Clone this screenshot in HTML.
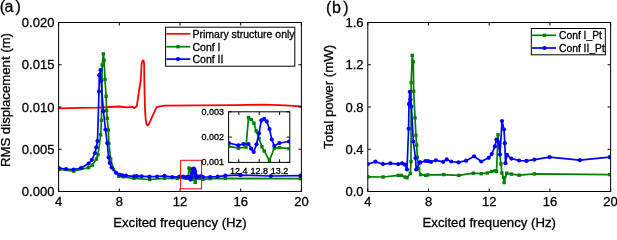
<!DOCTYPE html><html><head><meta charset="utf-8"><style>html,body{margin:0;padding:0;background:#fff;width:617px;height:230px;overflow:hidden}text{stroke:#000;stroke-width:0.3}svg{display:block;will-change:transform;font-family:"Liberation Sans",sans-serif}</style></head><body>
<svg width="617" height="230" viewBox="0 0 617 230">
<rect width="617" height="230" fill="#fff"/>
<text y="12.2" font-size="16"><tspan x="-0.3">(</tspan><tspan x="4.4">a</tspan><tspan x="15.4">)</tspan></text>
<text y="12.8" font-size="16"><tspan x="325.9">(</tspan><tspan x="332.1">b</tspan><tspan x="343.3">)</tspan></text>
<clipPath id="ca"><rect x="58.6" y="22.5" width="242.80" height="169.00"/></clipPath>
<g clip-path="url(#ca)">
<polyline points="58.6,108.3 80.0,107.9 97.0,107.6 110.0,107.0 119.0,106.5 126.7,107.3 132.6,106.9 134.5,108.0 136.8,106.1 138.4,95.0 140.8,80.0 141.6,64.0 142.5,60.9 143.4,60.4 144.1,63.0 144.3,80.0 144.6,95.0 145.2,113.0 145.8,120.5 146.6,124.3 147.6,125.5 148.6,124.6 156.6,107.2 164.2,105.7 200.0,105.4 235.0,105.1 263.9,104.7 285.0,105.3 301.4,106.4" fill="none" stroke="#ff0000" stroke-width="1.8" stroke-linejoin="round"/>
<polyline points="58.9,169.5 73.6,171.1 88.6,167.6 92.3,165.2 96.3,159.1 98.0,154.8 100.7,134.8 101.4,120.3 102.2,65.0 103.3,53.9 104.1,60.4 105.0,79.5 106.1,96.3 106.6,110.4 107.2,118.3 108.3,130.0 108.9,143.5 110.7,159.0 113.5,169.5 118.8,176.3 123.3,176.8 134.0,178.3 149.7,179.5 164.5,178.3 177.4,178.3 183.1,177.7 186.0,178.3 188.2,178.0 189.0,168.1 189.8,168.7 190.6,170.0 191.2,172.6 192.1,175.0 192.9,177.8 193.6,179.2 195.2,182.4 196.6,178.3 198.2,178.1 201.0,178.5 203.0,179.3 210.2,178.7 225.3,178.4 300.5,178.7" fill="none" stroke="#008000" stroke-width="1.7" stroke-linejoin="round"/>
<rect x="57.2" y="167.8" width="3.4" height="3.4" fill="#008000"/>
<rect x="71.9" y="169.4" width="3.4" height="3.4" fill="#008000"/>
<rect x="86.9" y="165.9" width="3.4" height="3.4" fill="#008000"/>
<rect x="90.6" y="163.5" width="3.4" height="3.4" fill="#008000"/>
<rect x="94.6" y="157.4" width="3.4" height="3.4" fill="#008000"/>
<rect x="96.3" y="153.1" width="3.4" height="3.4" fill="#008000"/>
<rect x="99.0" y="133.1" width="3.4" height="3.4" fill="#008000"/>
<rect x="99.7" y="118.6" width="3.4" height="3.4" fill="#008000"/>
<rect x="100.5" y="63.3" width="3.4" height="3.4" fill="#008000"/>
<rect x="101.6" y="52.2" width="3.4" height="3.4" fill="#008000"/>
<rect x="102.4" y="58.7" width="3.4" height="3.4" fill="#008000"/>
<rect x="103.3" y="77.8" width="3.4" height="3.4" fill="#008000"/>
<rect x="104.4" y="94.6" width="3.4" height="3.4" fill="#008000"/>
<rect x="104.9" y="108.7" width="3.4" height="3.4" fill="#008000"/>
<rect x="105.5" y="116.6" width="3.4" height="3.4" fill="#008000"/>
<rect x="106.6" y="128.3" width="3.4" height="3.4" fill="#008000"/>
<rect x="107.2" y="141.8" width="3.4" height="3.4" fill="#008000"/>
<rect x="109.0" y="157.3" width="3.4" height="3.4" fill="#008000"/>
<rect x="111.8" y="167.8" width="3.4" height="3.4" fill="#008000"/>
<rect x="117.1" y="174.6" width="3.4" height="3.4" fill="#008000"/>
<rect x="121.6" y="175.1" width="3.4" height="3.4" fill="#008000"/>
<rect x="132.3" y="176.6" width="3.4" height="3.4" fill="#008000"/>
<rect x="148.0" y="177.8" width="3.4" height="3.4" fill="#008000"/>
<rect x="162.8" y="176.6" width="3.4" height="3.4" fill="#008000"/>
<rect x="175.7" y="176.6" width="3.4" height="3.4" fill="#008000"/>
<rect x="181.4" y="176.0" width="3.4" height="3.4" fill="#008000"/>
<rect x="184.3" y="176.6" width="3.4" height="3.4" fill="#008000"/>
<rect x="186.5" y="176.3" width="3.4" height="3.4" fill="#008000"/>
<rect x="187.3" y="166.4" width="3.4" height="3.4" fill="#008000"/>
<rect x="188.1" y="167.0" width="3.4" height="3.4" fill="#008000"/>
<rect x="188.9" y="168.3" width="3.4" height="3.4" fill="#008000"/>
<rect x="189.5" y="170.9" width="3.4" height="3.4" fill="#008000"/>
<rect x="190.4" y="173.3" width="3.4" height="3.4" fill="#008000"/>
<rect x="191.2" y="176.1" width="3.4" height="3.4" fill="#008000"/>
<rect x="191.9" y="177.5" width="3.4" height="3.4" fill="#008000"/>
<rect x="193.5" y="180.7" width="3.4" height="3.4" fill="#008000"/>
<rect x="194.9" y="176.6" width="3.4" height="3.4" fill="#008000"/>
<rect x="196.5" y="176.4" width="3.4" height="3.4" fill="#008000"/>
<rect x="199.3" y="176.8" width="3.4" height="3.4" fill="#008000"/>
<rect x="201.3" y="177.6" width="3.4" height="3.4" fill="#008000"/>
<rect x="208.5" y="177.0" width="3.4" height="3.4" fill="#008000"/>
<rect x="223.6" y="176.7" width="3.4" height="3.4" fill="#008000"/>
<rect x="298.8" y="177.0" width="3.4" height="3.4" fill="#008000"/>
<polyline points="58.9,168.0 66.1,169.0 73.6,169.5 81.0,168.0 88.6,163.6 91.8,160.0 95.0,153.0 96.3,147.3 97.5,141.0 99.0,91.4 99.3,75.2 100.5,70.0 101.1,80.8 103.4,111.2 105.5,129.5 107.2,143.1 108.6,157.4 109.8,163.1 111.6,167.5 115.9,172.7 119.4,174.5 122.4,175.3 125.9,175.6 134.1,176.3 136.8,176.2 141.5,176.3 149.4,176.7 157.2,176.7 164.4,175.8 172.2,177.2 179.4,176.7 183.1,176.6 186.0,177.3 187.5,176.9 189.0,176.9 189.8,178.5 190.5,179.6 191.3,177.0 192.1,173.3 192.8,169.0 193.6,168.5 194.4,169.4 195.2,171.9 195.9,175.4 196.6,177.5 198.2,176.6 201.0,176.1 203.0,177.0 210.2,177.0 217.6,176.6 225.3,175.7 240.5,175.2 270.8,176.0 300.5,175.7" fill="none" stroke="#0000ff" stroke-width="1.7" stroke-linejoin="round"/>
<circle cx="58.9" cy="168.0" r="2.1" fill="#0000ff"/>
<circle cx="66.1" cy="169.0" r="2.1" fill="#0000ff"/>
<circle cx="73.6" cy="169.5" r="2.1" fill="#0000ff"/>
<circle cx="81.0" cy="168.0" r="2.1" fill="#0000ff"/>
<circle cx="88.6" cy="163.6" r="2.1" fill="#0000ff"/>
<circle cx="91.8" cy="160.0" r="2.1" fill="#0000ff"/>
<circle cx="95.0" cy="153.0" r="2.1" fill="#0000ff"/>
<circle cx="96.3" cy="147.3" r="2.1" fill="#0000ff"/>
<circle cx="97.5" cy="141.0" r="2.1" fill="#0000ff"/>
<circle cx="99.0" cy="91.4" r="2.1" fill="#0000ff"/>
<circle cx="99.3" cy="75.2" r="2.1" fill="#0000ff"/>
<circle cx="100.5" cy="70.0" r="2.1" fill="#0000ff"/>
<circle cx="101.1" cy="80.8" r="2.1" fill="#0000ff"/>
<circle cx="103.4" cy="111.2" r="2.1" fill="#0000ff"/>
<circle cx="105.5" cy="129.5" r="2.1" fill="#0000ff"/>
<circle cx="107.2" cy="143.1" r="2.1" fill="#0000ff"/>
<circle cx="108.6" cy="157.4" r="2.1" fill="#0000ff"/>
<circle cx="109.8" cy="163.1" r="2.1" fill="#0000ff"/>
<circle cx="111.6" cy="167.5" r="2.1" fill="#0000ff"/>
<circle cx="115.9" cy="172.7" r="2.1" fill="#0000ff"/>
<circle cx="119.4" cy="174.5" r="2.1" fill="#0000ff"/>
<circle cx="122.4" cy="175.3" r="2.1" fill="#0000ff"/>
<circle cx="125.9" cy="175.6" r="2.1" fill="#0000ff"/>
<circle cx="134.1" cy="176.3" r="2.1" fill="#0000ff"/>
<circle cx="136.8" cy="176.2" r="2.1" fill="#0000ff"/>
<circle cx="141.5" cy="176.3" r="2.1" fill="#0000ff"/>
<circle cx="149.4" cy="176.7" r="2.1" fill="#0000ff"/>
<circle cx="157.2" cy="176.7" r="2.1" fill="#0000ff"/>
<circle cx="164.4" cy="175.8" r="2.1" fill="#0000ff"/>
<circle cx="172.2" cy="177.2" r="2.1" fill="#0000ff"/>
<circle cx="179.4" cy="176.7" r="2.1" fill="#0000ff"/>
<circle cx="183.1" cy="176.6" r="2.1" fill="#0000ff"/>
<circle cx="186.0" cy="177.3" r="2.1" fill="#0000ff"/>
<circle cx="187.5" cy="176.9" r="2.1" fill="#0000ff"/>
<circle cx="189.0" cy="176.9" r="2.1" fill="#0000ff"/>
<circle cx="189.8" cy="178.5" r="2.1" fill="#0000ff"/>
<circle cx="190.5" cy="179.6" r="2.1" fill="#0000ff"/>
<circle cx="191.3" cy="177.0" r="2.1" fill="#0000ff"/>
<circle cx="192.1" cy="173.3" r="2.1" fill="#0000ff"/>
<circle cx="192.8" cy="169.0" r="2.1" fill="#0000ff"/>
<circle cx="193.6" cy="168.5" r="2.1" fill="#0000ff"/>
<circle cx="194.4" cy="169.4" r="2.1" fill="#0000ff"/>
<circle cx="195.2" cy="171.9" r="2.1" fill="#0000ff"/>
<circle cx="195.9" cy="175.4" r="2.1" fill="#0000ff"/>
<circle cx="196.6" cy="177.5" r="2.1" fill="#0000ff"/>
<circle cx="198.2" cy="176.6" r="2.1" fill="#0000ff"/>
<circle cx="201.0" cy="176.1" r="2.1" fill="#0000ff"/>
<circle cx="203.0" cy="177.0" r="2.1" fill="#0000ff"/>
<circle cx="210.2" cy="177.0" r="2.1" fill="#0000ff"/>
<circle cx="217.6" cy="176.6" r="2.1" fill="#0000ff"/>
<circle cx="225.3" cy="175.7" r="2.1" fill="#0000ff"/>
<circle cx="240.5" cy="175.2" r="2.1" fill="#0000ff"/>
<circle cx="270.8" cy="176.0" r="2.1" fill="#0000ff"/>
<circle cx="300.5" cy="175.7" r="2.1" fill="#0000ff"/>
</g>
<rect x="58.6" y="22.5" width="242.80" height="169.00" fill="none" stroke="#000" stroke-width="1"/>
<line x1="58.60" y1="191.5" x2="58.60" y2="188.5" stroke="#000" stroke-width="1"/>
<line x1="58.60" y1="22.5" x2="58.60" y2="25.5" stroke="#000" stroke-width="1"/>
<line x1="119.30" y1="191.5" x2="119.30" y2="188.5" stroke="#000" stroke-width="1"/>
<line x1="119.30" y1="22.5" x2="119.30" y2="25.5" stroke="#000" stroke-width="1"/>
<line x1="180.00" y1="191.5" x2="180.00" y2="188.5" stroke="#000" stroke-width="1"/>
<line x1="180.00" y1="22.5" x2="180.00" y2="25.5" stroke="#000" stroke-width="1"/>
<line x1="240.70" y1="191.5" x2="240.70" y2="188.5" stroke="#000" stroke-width="1"/>
<line x1="240.70" y1="22.5" x2="240.70" y2="25.5" stroke="#000" stroke-width="1"/>
<line x1="301.40" y1="191.5" x2="301.40" y2="188.5" stroke="#000" stroke-width="1"/>
<line x1="301.40" y1="22.5" x2="301.40" y2="25.5" stroke="#000" stroke-width="1"/>
<line x1="58.6" y1="191.50" x2="61.6" y2="191.50" stroke="#000" stroke-width="1"/>
<line x1="301.4" y1="191.50" x2="298.4" y2="191.50" stroke="#000" stroke-width="1"/>
<line x1="58.6" y1="149.25" x2="61.6" y2="149.25" stroke="#000" stroke-width="1"/>
<line x1="301.4" y1="149.25" x2="298.4" y2="149.25" stroke="#000" stroke-width="1"/>
<line x1="58.6" y1="107.00" x2="61.6" y2="107.00" stroke="#000" stroke-width="1"/>
<line x1="301.4" y1="107.00" x2="298.4" y2="107.00" stroke="#000" stroke-width="1"/>
<line x1="58.6" y1="64.75" x2="61.6" y2="64.75" stroke="#000" stroke-width="1"/>
<line x1="301.4" y1="64.75" x2="298.4" y2="64.75" stroke="#000" stroke-width="1"/>
<line x1="58.6" y1="22.50" x2="61.6" y2="22.50" stroke="#000" stroke-width="1"/>
<line x1="301.4" y1="22.50" x2="298.4" y2="22.50" stroke="#000" stroke-width="1"/>
<text x="54.4" y="196.00" text-anchor="end" font-size="13">0.000</text>
<text x="54.4" y="153.75" text-anchor="end" font-size="13">0.005</text>
<text x="54.4" y="111.50" text-anchor="end" font-size="13">0.010</text>
<text x="54.4" y="69.25" text-anchor="end" font-size="13">0.015</text>
<text x="54.4" y="27.00" text-anchor="end" font-size="13">0.020</text>
<text x="58.60" y="205.8" text-anchor="middle" font-size="13">4</text>
<text x="119.30" y="205.8" text-anchor="middle" font-size="13">8</text>
<text x="180.00" y="205.8" text-anchor="middle" font-size="13">12</text>
<text x="240.70" y="205.8" text-anchor="middle" font-size="13">16</text>
<text x="301.40" y="205.8" text-anchor="middle" font-size="13">20</text>
<rect x="180.6" y="160.3" width="21.0" height="28.5" fill="none" stroke="#ff0000" stroke-width="1"/>
<rect x="228.6" y="111.8" width="61.20" height="50.60" fill="#fff" stroke="#000" stroke-width="1"/>
<clipPath id="ci"><rect x="228.6" y="111.8" width="61.20" height="50.60"/></clipPath>
<g clip-path="url(#ci)">
<polyline points="228.8,146.3 238.4,148.2 246.0,147.2 248.5,117.6 251.2,119.5 254.0,123.3 256.2,131.0 259.0,138.4 261.9,146.8 264.2,151.0 269.4,160.4 274.3,148.2 279.5,147.6 289.0,148.7" fill="none" stroke="#008000" stroke-width="1.7" stroke-linejoin="round"/>
<rect x="227.1" y="144.6" width="3.4" height="3.4" fill="#008000"/>
<rect x="236.7" y="146.5" width="3.4" height="3.4" fill="#008000"/>
<rect x="244.3" y="145.5" width="3.4" height="3.4" fill="#008000"/>
<rect x="246.8" y="115.9" width="3.4" height="3.4" fill="#008000"/>
<rect x="249.5" y="117.8" width="3.4" height="3.4" fill="#008000"/>
<rect x="252.3" y="121.6" width="3.4" height="3.4" fill="#008000"/>
<rect x="254.5" y="129.3" width="3.4" height="3.4" fill="#008000"/>
<rect x="257.3" y="136.7" width="3.4" height="3.4" fill="#008000"/>
<rect x="260.2" y="145.1" width="3.4" height="3.4" fill="#008000"/>
<rect x="262.5" y="149.3" width="3.4" height="3.4" fill="#008000"/>
<rect x="267.7" y="158.7" width="3.4" height="3.4" fill="#008000"/>
<rect x="272.6" y="146.5" width="3.4" height="3.4" fill="#008000"/>
<rect x="277.8" y="145.9" width="3.4" height="3.4" fill="#008000"/>
<rect x="287.3" y="147.0" width="3.4" height="3.4" fill="#008000"/>
<polyline points="228.8,143.0 238.4,145.3 243.5,144.0 248.5,144.0 251.2,148.7 253.7,152.0 256.5,144.3 259.0,133.3 261.3,120.4 264.2,118.9 266.7,121.4 269.5,129.0 271.8,139.5 274.3,145.8 279.5,143.0 289.0,141.5" fill="none" stroke="#0000ff" stroke-width="1.7" stroke-linejoin="round"/>
<circle cx="228.8" cy="143.0" r="2.1" fill="#0000ff"/>
<circle cx="238.4" cy="145.3" r="2.1" fill="#0000ff"/>
<circle cx="243.5" cy="144.0" r="2.1" fill="#0000ff"/>
<circle cx="248.5" cy="144.0" r="2.1" fill="#0000ff"/>
<circle cx="251.2" cy="148.7" r="2.1" fill="#0000ff"/>
<circle cx="253.7" cy="152.0" r="2.1" fill="#0000ff"/>
<circle cx="256.5" cy="144.3" r="2.1" fill="#0000ff"/>
<circle cx="259.0" cy="133.3" r="2.1" fill="#0000ff"/>
<circle cx="261.3" cy="120.4" r="2.1" fill="#0000ff"/>
<circle cx="264.2" cy="118.9" r="2.1" fill="#0000ff"/>
<circle cx="266.7" cy="121.4" r="2.1" fill="#0000ff"/>
<circle cx="269.5" cy="129.0" r="2.1" fill="#0000ff"/>
<circle cx="271.8" cy="139.5" r="2.1" fill="#0000ff"/>
<circle cx="274.3" cy="145.8" r="2.1" fill="#0000ff"/>
<circle cx="279.5" cy="143.0" r="2.1" fill="#0000ff"/>
<circle cx="289.0" cy="141.5" r="2.1" fill="#0000ff"/>
</g>
<line x1="238.80" y1="162.4" x2="238.80" y2="159.20000000000002" stroke="#000"/>
<line x1="238.80" y1="111.8" x2="238.80" y2="115.0" stroke="#000"/>
<line x1="259.20" y1="162.4" x2="259.20" y2="159.20000000000002" stroke="#000"/>
<line x1="259.20" y1="111.8" x2="259.20" y2="115.0" stroke="#000"/>
<line x1="279.60" y1="162.4" x2="279.60" y2="159.20000000000002" stroke="#000"/>
<line x1="279.60" y1="111.8" x2="279.60" y2="115.0" stroke="#000"/>
<line x1="228.6" y1="162.40" x2="231.79999999999998" y2="162.40" stroke="#000"/>
<line x1="289.8" y1="162.40" x2="286.6" y2="162.40" stroke="#000"/>
<line x1="228.6" y1="137.10" x2="231.79999999999998" y2="137.10" stroke="#000"/>
<line x1="289.8" y1="137.10" x2="286.6" y2="137.10" stroke="#000"/>
<line x1="228.6" y1="111.80" x2="231.79999999999998" y2="111.80" stroke="#000"/>
<line x1="289.8" y1="111.80" x2="286.6" y2="111.80" stroke="#000"/>
<text x="224" y="165.40" text-anchor="end" font-size="9">0.001</text>
<text x="224" y="140.10" text-anchor="end" font-size="9">0.002</text>
<text x="224" y="114.80" text-anchor="end" font-size="9">0.003</text>
<text x="238.80" y="174.2" text-anchor="middle" font-size="9">12.4</text>
<text x="259.20" y="174.2" text-anchor="middle" font-size="9">12.8</text>
<text x="279.60" y="174.2" text-anchor="middle" font-size="9">13.2</text>
<rect x="165.6" y="27.2" width="129.2" height="39" fill="#fff" stroke="#000" stroke-width="1"/>
<line x1="166.3" y1="33.8" x2="190.3" y2="33.8" stroke="#ff0000" stroke-width="1.7"/>
<line x1="166.3" y1="46.7" x2="190.3" y2="46.7" stroke="#008000" stroke-width="1.7"/>
<rect x="176.3" y="45.0" width="3.4" height="3.4" fill="#008000"/>
<line x1="166.3" y1="59.1" x2="190.3" y2="59.1" stroke="#0000ff" stroke-width="1.7"/>
<circle cx="178.0" cy="59.1" r="2.1" fill="#0000ff"/>
<text x="192.5" y="37.8" font-size="10.5">Primary structure only</text>
<text x="192.5" y="50.7" font-size="10.5">Conf I</text>
<text x="192.5" y="63.1" font-size="10.5">Conf II</text>
<text x="179.9" y="227" text-anchor="middle" font-size="13.2">Excited frequency (Hz)</text>
<text transform="translate(10,100.05) rotate(-90)" text-anchor="middle" font-size="13.2">RMS displacement (m)</text>
<clipPath id="cb"><rect x="367.8" y="22.5" width="242.80" height="169.00"/></clipPath>
<g clip-path="url(#cb)">
<polyline points="367.9,176.8 383.0,177.0 398.2,175.4 401.2,175.4 405.0,177.0 407.0,177.8 410.3,173.5 411.0,161.5 411.2,82.6 412.2,55.4 413.3,61.8 413.7,91.3 415.0,117.8 415.9,135.4 416.7,145.0 417.3,157.2 418.7,168.6 420.6,174.6 425.8,175.4 428.0,174.9 443.7,174.6 458.8,175.4 473.3,173.2 481.3,173.7 487.2,173.0 491.5,171.5 494.8,170.9 496.5,171.5 498.0,134.8 500.9,163.9 501.9,173.0 503.5,177.6 504.1,182.6 506.7,173.2 511.3,174.1 519.1,175.2 534.4,173.9 609.7,174.6" fill="none" stroke="#008000" stroke-width="1.7" stroke-linejoin="round"/>
<rect x="366.2" y="175.1" width="3.4" height="3.4" fill="#008000"/>
<rect x="381.3" y="175.3" width="3.4" height="3.4" fill="#008000"/>
<rect x="396.5" y="173.7" width="3.4" height="3.4" fill="#008000"/>
<rect x="399.5" y="173.7" width="3.4" height="3.4" fill="#008000"/>
<rect x="403.3" y="175.3" width="3.4" height="3.4" fill="#008000"/>
<rect x="405.3" y="176.1" width="3.4" height="3.4" fill="#008000"/>
<rect x="408.6" y="171.8" width="3.4" height="3.4" fill="#008000"/>
<rect x="409.3" y="159.8" width="3.4" height="3.4" fill="#008000"/>
<rect x="409.5" y="80.9" width="3.4" height="3.4" fill="#008000"/>
<rect x="410.5" y="53.7" width="3.4" height="3.4" fill="#008000"/>
<rect x="411.6" y="60.1" width="3.4" height="3.4" fill="#008000"/>
<rect x="412.0" y="89.6" width="3.4" height="3.4" fill="#008000"/>
<rect x="413.3" y="116.1" width="3.4" height="3.4" fill="#008000"/>
<rect x="414.2" y="133.7" width="3.4" height="3.4" fill="#008000"/>
<rect x="415.0" y="143.3" width="3.4" height="3.4" fill="#008000"/>
<rect x="415.6" y="155.5" width="3.4" height="3.4" fill="#008000"/>
<rect x="417.0" y="166.9" width="3.4" height="3.4" fill="#008000"/>
<rect x="418.9" y="172.9" width="3.4" height="3.4" fill="#008000"/>
<rect x="424.1" y="173.7" width="3.4" height="3.4" fill="#008000"/>
<rect x="426.3" y="173.2" width="3.4" height="3.4" fill="#008000"/>
<rect x="442.0" y="172.9" width="3.4" height="3.4" fill="#008000"/>
<rect x="457.1" y="173.7" width="3.4" height="3.4" fill="#008000"/>
<rect x="471.6" y="171.5" width="3.4" height="3.4" fill="#008000"/>
<rect x="479.6" y="172.0" width="3.4" height="3.4" fill="#008000"/>
<rect x="485.5" y="171.3" width="3.4" height="3.4" fill="#008000"/>
<rect x="489.8" y="169.8" width="3.4" height="3.4" fill="#008000"/>
<rect x="493.1" y="169.2" width="3.4" height="3.4" fill="#008000"/>
<rect x="494.8" y="169.8" width="3.4" height="3.4" fill="#008000"/>
<rect x="496.3" y="133.1" width="3.4" height="3.4" fill="#008000"/>
<rect x="499.2" y="162.2" width="3.4" height="3.4" fill="#008000"/>
<rect x="500.2" y="171.3" width="3.4" height="3.4" fill="#008000"/>
<rect x="501.8" y="175.9" width="3.4" height="3.4" fill="#008000"/>
<rect x="502.4" y="180.9" width="3.4" height="3.4" fill="#008000"/>
<rect x="505.0" y="171.5" width="3.4" height="3.4" fill="#008000"/>
<rect x="509.6" y="172.4" width="3.4" height="3.4" fill="#008000"/>
<rect x="517.4" y="173.5" width="3.4" height="3.4" fill="#008000"/>
<rect x="532.7" y="172.2" width="3.4" height="3.4" fill="#008000"/>
<rect x="608.0" y="172.9" width="3.4" height="3.4" fill="#008000"/>
<polyline points="367.9,164.1 375.4,161.7 383.0,164.1 390.4,163.3 398.2,164.1 402.1,163.3 405.0,164.7 407.0,169.5 408.6,128.8 409.0,104.1 409.8,91.8 410.5,99.6 411.4,106.4 413.3,141.5 415.5,158.0 416.2,169.5 419.7,162.7 420.2,162.4 425.4,161.0 428.0,161.2 431.0,161.9 435.9,160.3 443.2,161.9 446.7,159.4 451.2,161.5 458.5,162.4 466.1,160.7 474.1,156.3 481.3,161.5 488.7,157.8 491.8,154.0 494.9,146.4 496.4,139.6 498.7,142.6 500.0,154.6 502.0,121.1 504.0,129.5 504.8,143.2 505.5,163.2 507.0,154.8 511.3,158.6 519.1,160.5 526.5,160.9 534.4,159.6 549.6,157.2 579.9,160.2 609.7,157.2" fill="none" stroke="#0000ff" stroke-width="1.7" stroke-linejoin="round"/>
<circle cx="367.9" cy="164.1" r="2.1" fill="#0000ff"/>
<circle cx="375.4" cy="161.7" r="2.1" fill="#0000ff"/>
<circle cx="383.0" cy="164.1" r="2.1" fill="#0000ff"/>
<circle cx="390.4" cy="163.3" r="2.1" fill="#0000ff"/>
<circle cx="398.2" cy="164.1" r="2.1" fill="#0000ff"/>
<circle cx="402.1" cy="163.3" r="2.1" fill="#0000ff"/>
<circle cx="405.0" cy="164.7" r="2.1" fill="#0000ff"/>
<circle cx="407.0" cy="169.5" r="2.1" fill="#0000ff"/>
<circle cx="408.6" cy="128.8" r="2.1" fill="#0000ff"/>
<circle cx="409.0" cy="104.1" r="2.1" fill="#0000ff"/>
<circle cx="409.8" cy="91.8" r="2.1" fill="#0000ff"/>
<circle cx="410.5" cy="99.6" r="2.1" fill="#0000ff"/>
<circle cx="411.4" cy="106.4" r="2.1" fill="#0000ff"/>
<circle cx="413.3" cy="141.5" r="2.1" fill="#0000ff"/>
<circle cx="415.5" cy="158.0" r="2.1" fill="#0000ff"/>
<circle cx="416.2" cy="169.5" r="2.1" fill="#0000ff"/>
<circle cx="419.7" cy="162.7" r="2.1" fill="#0000ff"/>
<circle cx="420.2" cy="162.4" r="2.1" fill="#0000ff"/>
<circle cx="425.4" cy="161.0" r="2.1" fill="#0000ff"/>
<circle cx="428.0" cy="161.2" r="2.1" fill="#0000ff"/>
<circle cx="431.0" cy="161.9" r="2.1" fill="#0000ff"/>
<circle cx="435.9" cy="160.3" r="2.1" fill="#0000ff"/>
<circle cx="443.2" cy="161.9" r="2.1" fill="#0000ff"/>
<circle cx="446.7" cy="159.4" r="2.1" fill="#0000ff"/>
<circle cx="451.2" cy="161.5" r="2.1" fill="#0000ff"/>
<circle cx="458.5" cy="162.4" r="2.1" fill="#0000ff"/>
<circle cx="466.1" cy="160.7" r="2.1" fill="#0000ff"/>
<circle cx="474.1" cy="156.3" r="2.1" fill="#0000ff"/>
<circle cx="481.3" cy="161.5" r="2.1" fill="#0000ff"/>
<circle cx="488.7" cy="157.8" r="2.1" fill="#0000ff"/>
<circle cx="491.8" cy="154.0" r="2.1" fill="#0000ff"/>
<circle cx="494.9" cy="146.4" r="2.1" fill="#0000ff"/>
<circle cx="496.4" cy="139.6" r="2.1" fill="#0000ff"/>
<circle cx="498.7" cy="142.6" r="2.1" fill="#0000ff"/>
<circle cx="500.0" cy="154.6" r="2.1" fill="#0000ff"/>
<circle cx="502.0" cy="121.1" r="2.1" fill="#0000ff"/>
<circle cx="504.0" cy="129.5" r="2.1" fill="#0000ff"/>
<circle cx="504.8" cy="143.2" r="2.1" fill="#0000ff"/>
<circle cx="505.5" cy="163.2" r="2.1" fill="#0000ff"/>
<circle cx="507.0" cy="154.8" r="2.1" fill="#0000ff"/>
<circle cx="511.3" cy="158.6" r="2.1" fill="#0000ff"/>
<circle cx="519.1" cy="160.5" r="2.1" fill="#0000ff"/>
<circle cx="526.5" cy="160.9" r="2.1" fill="#0000ff"/>
<circle cx="534.4" cy="159.6" r="2.1" fill="#0000ff"/>
<circle cx="549.6" cy="157.2" r="2.1" fill="#0000ff"/>
<circle cx="579.9" cy="160.2" r="2.1" fill="#0000ff"/>
<circle cx="609.7" cy="157.2" r="2.1" fill="#0000ff"/>
</g>
<rect x="367.8" y="22.5" width="242.80" height="169.00" fill="none" stroke="#000" stroke-width="1"/>
<line x1="367.80" y1="191.5" x2="367.80" y2="188.5" stroke="#000" stroke-width="1"/>
<line x1="367.80" y1="22.5" x2="367.80" y2="25.5" stroke="#000" stroke-width="1"/>
<line x1="428.50" y1="191.5" x2="428.50" y2="188.5" stroke="#000" stroke-width="1"/>
<line x1="428.50" y1="22.5" x2="428.50" y2="25.5" stroke="#000" stroke-width="1"/>
<line x1="489.20" y1="191.5" x2="489.20" y2="188.5" stroke="#000" stroke-width="1"/>
<line x1="489.20" y1="22.5" x2="489.20" y2="25.5" stroke="#000" stroke-width="1"/>
<line x1="549.90" y1="191.5" x2="549.90" y2="188.5" stroke="#000" stroke-width="1"/>
<line x1="549.90" y1="22.5" x2="549.90" y2="25.5" stroke="#000" stroke-width="1"/>
<line x1="610.60" y1="191.5" x2="610.60" y2="188.5" stroke="#000" stroke-width="1"/>
<line x1="610.60" y1="22.5" x2="610.60" y2="25.5" stroke="#000" stroke-width="1"/>
<line x1="367.8" y1="191.50" x2="370.8" y2="191.50" stroke="#000" stroke-width="1"/>
<line x1="610.6" y1="191.50" x2="607.6" y2="191.50" stroke="#000" stroke-width="1"/>
<line x1="367.8" y1="149.25" x2="370.8" y2="149.25" stroke="#000" stroke-width="1"/>
<line x1="610.6" y1="149.25" x2="607.6" y2="149.25" stroke="#000" stroke-width="1"/>
<line x1="367.8" y1="107.00" x2="370.8" y2="107.00" stroke="#000" stroke-width="1"/>
<line x1="610.6" y1="107.00" x2="607.6" y2="107.00" stroke="#000" stroke-width="1"/>
<line x1="367.8" y1="64.75" x2="370.8" y2="64.75" stroke="#000" stroke-width="1"/>
<line x1="610.6" y1="64.75" x2="607.6" y2="64.75" stroke="#000" stroke-width="1"/>
<line x1="367.8" y1="22.50" x2="370.8" y2="22.50" stroke="#000" stroke-width="1"/>
<line x1="610.6" y1="22.50" x2="607.6" y2="22.50" stroke="#000" stroke-width="1"/>
<text x="363.5" y="196.00" text-anchor="end" font-size="13">0.0</text>
<text x="363.5" y="153.75" text-anchor="end" font-size="13">0.4</text>
<text x="363.5" y="111.50" text-anchor="end" font-size="13">0.8</text>
<text x="363.5" y="69.25" text-anchor="end" font-size="13">1.2</text>
<text x="363.5" y="27.00" text-anchor="end" font-size="13">1.6</text>
<text x="367.80" y="205.8" text-anchor="middle" font-size="13">4</text>
<text x="428.50" y="205.8" text-anchor="middle" font-size="13">8</text>
<text x="489.20" y="205.8" text-anchor="middle" font-size="13">12</text>
<text x="549.90" y="205.8" text-anchor="middle" font-size="13">16</text>
<text x="610.60" y="205.8" text-anchor="middle" font-size="13">20</text>
<rect x="531.3" y="28.5" width="74" height="26.3" fill="#fff" stroke="#000" stroke-width="1"/>
<line x1="532.1" y1="35.3" x2="556" y2="35.3" stroke="#008000" stroke-width="1.7"/>
<rect x="542.8" y="33.6" width="3.4" height="3.4" fill="#008000"/>
<line x1="532.1" y1="48" x2="556" y2="48" stroke="#0000ff" stroke-width="1.7"/>
<circle cx="544.5" cy="48.0" r="2.1" fill="#0000ff"/>
<text x="559" y="39.3" font-size="10.3">Conf I_Pt</text>
<text x="559" y="52" font-size="10.3">Conf II_Pt</text>
<text x="489.2" y="227" text-anchor="middle" font-size="13.2">Excited frequency (Hz)</text>
<text transform="translate(332.7,96.8) rotate(-90)" text-anchor="middle" font-size="13.3">Total power (mW)</text>
</svg></body></html>
